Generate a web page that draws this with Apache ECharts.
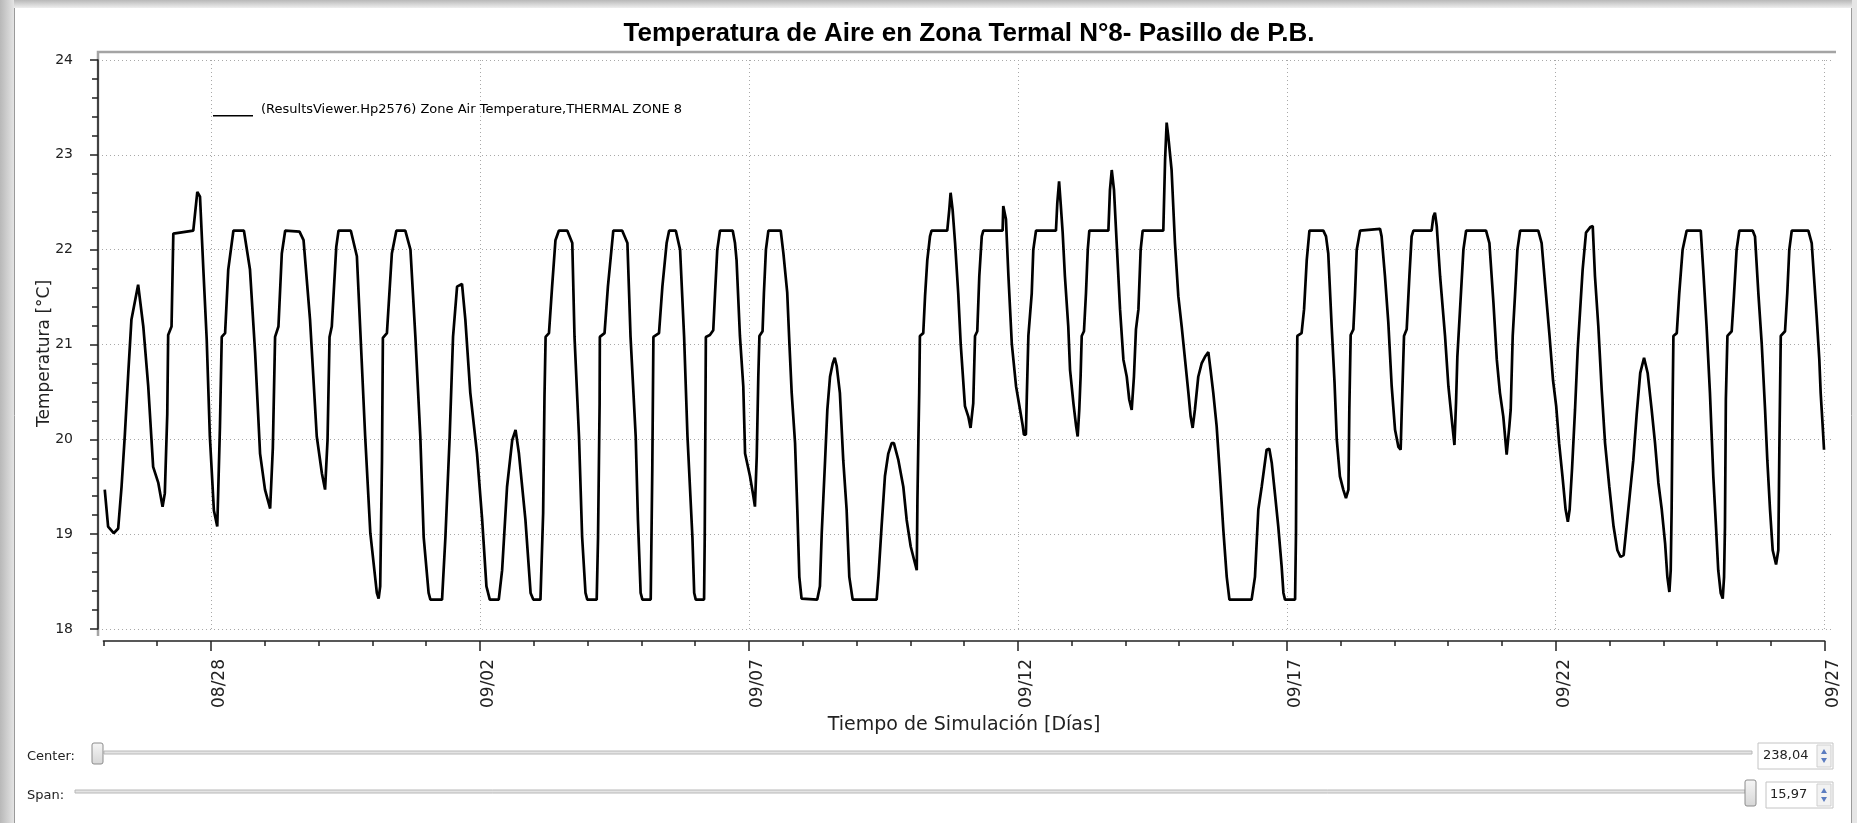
<!DOCTYPE html>
<html>

<head>
  <meta charset="utf-8">
  <title>Temperatura de Aire - Zona Termal 8</title>
  <style>
    html, body { margin: 0; padding: 0; background: #fff; }
    #chart { width: 1857px; height: 823px; }
  </style>
</head>

<body>
  <div id="chart"></div>
  <script src="https://cdn.jsdelivr.net/npm/echarts@6/dist/echarts.min.js"></script>
  <script type="text/javascript">
    // horas desde 08/26 00:00 y temperatura
    var hours = [
      0.6, 2.1, 4.6, 6.6, 8.1, 9.6, 11.1, 12.5, 15.5, 17.8, 20.0, 22.2, 24.5, 26.4, 27.4, 28.5, 28.9, 30.4, 31.2,
      40.1, 41.9, 43.1, 44.6, 46.1, 47.5, 49.3, 50.8, 52.0, 52.8, 54.3, 55.7, 58.0, 62.7, 65.4, 67.7, 69.9,
      72.1, 74.4, 75.6, 76.6, 78.1, 79.6, 81.1, 87.5, 89.3, 92.2, 95.2, 97.5, 98.9, 100.0, 100.9, 101.9, 103.9,
      104.9, 110.4, 113.1, 116.8, 119.1, 122.0, 122.8, 123.5, 124.3, 124.7, 126.5, 128.7, 130.7, 134.7, 137.0,
      139.2, 141.4, 142.9, 145.1, 145.9, 151.1, 152.6, 154.5, 156.0, 157.8, 160.0, 161.5, 163.7, 166.7, 169.0,
      170.9, 172.4, 176.4, 177.9, 180.1, 182.4, 183.9, 185.4, 188.3, 190.6, 191.8, 195.0, 196.2, 196.8, 197.3,
      198.8, 200.2, 201.7, 203.2, 207.0, 209.2, 210.2, 212.2, 213.6, 215.1, 215.9, 220.1, 220.7, 221.4, 221.5,
      223.6, 225.1, 227.5, 231.5, 233.8, 235.2, 237.5, 238.5, 239.7, 240.5, 244.2, 244.9, 245.4, 247.9, 249.4,
      251.3, 252.4, 255.4, 257.3, 259.1, 260.6, 262.8, 263.6, 264.3, 268.0, 268.3, 268.8, 270.6, 272.1, 272.9,
      273.9, 275.1, 280.8, 281.8, 282.5, 284.0, 285.5, 286.3, 288.5, 290.0, 290.7, 291.5, 292.2, 292.7, 294.1,
      294.7, 295.6, 296.7, 302.2, 303.4, 305.1, 306.0, 307.1, 308.6, 309.6, 310.5, 311.5, 312.3, 318.5, 319.7,
      320.5, 322.0, 323.0, 324.2, 325.4, 326.3, 327.2, 328.6, 330.1, 331.6, 332.8, 334.3, 345.0, 345.8, 347.2,
      348.7, 350.2, 351.7, 352.7, 354.7, 356.9, 358.4, 360.2, 361.7, 362.9, 363.2, 363.6, 364.0, 364.3, 365.8,
      366.6, 367.6, 368.8, 369.5, 376.5, 377.4, 378.0, 378.9, 380.0, 381.4, 382.5, 384.4, 385.9, 386.9, 388.1,
      388.9, 389.9, 390.8, 391.9, 392.6, 401.2, 401.5, 402.7, 403.8, 405.3, 407.2, 409.0, 410.2, 410.7, 411.6,
      412.0, 412.7, 414.2, 414.9, 416.1, 425.0, 425.6, 426.4, 427.1, 428.0, 429.0, 430.5, 431.3, 432.8, 434.0,
      434.7, 435.4, 436.0, 436.5, 437.5, 438.4, 439.2, 439.9, 448.4, 449.1, 449.9, 450.9, 452.1, 453.6, 455.1,
      456.6, 457.7, 458.8, 459.8, 460.7, 461.8, 462.8, 463.7, 472.9, 473.7, 474.4, 475.1, 476.6, 478.1, 479.6,
      481.1, 482.6, 484.1, 485.1, 486.0, 487.0, 488.5, 490.0, 491.5, 493.0, 494.0, 495.2, 496.7, 498.2, 499.7,
      501.2, 502.4, 512.3, 513.8, 515.3, 516.8, 519.0, 520.2, 521.3, 522.7, 524.2, 525.7, 526.5, 527.2, 531.7,
      532.1, 532.4, 532.7, 534.6, 535.7, 536.9, 538.1, 544.3, 545.5, 546.5, 548.0, 549.3, 550.3, 551.7, 553.2,
      554.4, 555.5, 555.9, 556.5, 557.7, 558.4, 559.2, 560.7, 569.6, 570.3, 571.8, 573.3, 574.8, 576.3, 577.8,
      578.8, 579.3, 580.3, 581.5, 582.7, 583.7, 584.5, 592.6, 593.4, 594.1, 594.9, 596.4, 598.6, 600.1, 601.6,
      602.8, 603.5, 604.1, 605.3, 606.8, 608.0, 616.9, 618.4, 620.2, 621.7, 623.1, 624.6, 626.1, 627.3, 627.9,
      628.8, 629.8, 630.9, 632.1, 640.2, 641.7, 643.2, 645.2, 646.8, 648.2, 649.5, 651.0, 652.4, 653.4, 654.2,
      655.3, 656.6, 657.8, 658.9, 660.0, 661.5, 663.5, 664.5, 665.5, 667.0, 668.5, 670.0, 671.9, 673.8, 675.5,
      676.9, 678.3, 679.6, 681.1, 682.6, 684.1, 685.7, 687.4, 689.0, 690.8, 692.3, 693.8, 695.3, 696.8, 697.8,
      698.7, 699.3, 699.7, 700.2, 700.5, 702.0, 703.1, 704.6, 706.4, 712.7, 713.8, 715.3, 716.8, 718.3, 719.5,
      720.5, 721.6, 722.5, 723.1, 723.5, 723.9, 724.6, 726.5, 727.5, 728.7, 729.9, 735.9, 736.9, 738.4, 739.9,
      741.4, 742.4, 743.6, 744.8, 746.3, 747.3, 747.8, 748.4, 750.3, 751.3, 752.2, 753.3, 760.7, 762.2, 763.2,
      764.4, 765.6, 766.2, 767.1, 767.7
    ];
    var temps = [
      19.47, 19.08, 19.01, 19.06, 19.50, 20.06, 20.70, 21.26, 21.63, 21.19, 20.56, 19.71, 19.54, 19.29, 19.43, 20.27, 21.10, 21.19, 22.17,
      22.20, 22.61, 22.56, 21.79, 21.05, 20.03, 19.25, 19.08, 20.13, 21.08, 21.12, 21.79, 22.20, 22.20, 21.79, 20.91, 19.85,
      19.47, 19.27, 19.91, 21.08, 21.19, 21.96, 22.20, 22.19, 22.10, 21.26, 20.03, 19.64, 19.47, 19.99, 21.08, 21.19, 22.03,
      22.20, 22.20, 21.93, 20.03, 19.01, 18.38, 18.32, 18.45, 19.78, 21.07, 21.12, 21.96, 22.20, 22.20, 22.00,
      21.08, 20.03, 18.97, 18.38, 18.31, 18.31, 18.97, 20.03, 21.08, 21.61, 21.64, 21.26, 20.49, 19.85, 19.15,
      18.45, 18.31, 18.31, 18.62, 19.50, 19.99, 20.10, 19.85, 19.15, 18.38, 18.31, 18.31, 19.22, 20.45, 21.08,
      21.12, 21.61, 22.10, 22.20, 22.20, 22.07, 21.08, 20.03, 18.97, 18.38, 18.31, 18.31, 18.97, 20.38, 21.08,
      21.12, 21.61, 22.20, 22.20, 22.07, 21.08, 20.03, 19.15, 18.38, 18.31, 18.31, 19.68, 21.08, 21.12, 21.61,
      22.07, 22.20, 22.20, 22.00, 21.08, 20.03, 18.97, 18.38, 18.31, 18.31, 18.97, 21.08, 21.10, 21.15, 21.54,
      22.00, 22.20, 22.20, 22.07, 21.89, 21.09, 20.56, 19.85, 19.61, 19.40, 19.29, 19.82, 20.66, 21.09, 21.14,
      21.54, 22.00, 22.20, 22.20, 21.96, 21.55, 21.05, 20.49, 19.96, 19.26, 18.55, 18.32, 18.31, 18.31, 18.45,
      19.01, 19.78, 20.31, 20.66, 20.80, 20.86, 20.77, 20.49, 19.78, 19.26, 18.55, 18.31, 18.31, 18.55, 19.08,
      19.61, 19.85, 19.96, 19.96, 19.78, 19.50, 19.15, 18.87, 18.73, 18.62, 19.36, 19.96, 20.50, 21.09, 21.12,
      21.51, 21.89, 22.14, 22.20, 22.20, 22.42, 22.60, 22.42, 22.07, 21.54, 21.01, 20.35, 20.24, 20.12, 20.38,
      21.09, 21.14, 21.72, 22.14, 22.20, 22.20, 22.46, 22.32, 21.72, 21.01, 20.56, 20.31, 20.14, 20.05, 20.05,
      20.45, 21.09, 21.54, 22.00, 22.20, 22.20, 22.49, 22.72, 22.49, 22.18, 21.72, 21.19, 20.73, 20.38, 20.14,
      20.03, 20.31, 20.66, 21.09, 21.14, 21.54, 22.00, 22.20, 22.20, 22.63, 22.84, 22.63, 22.07, 21.37, 20.84,
      20.66, 20.42, 20.31, 20.66, 21.16, 21.37, 22.00, 22.20, 22.20, 22.95, 23.34, 23.20, 22.84, 22.07, 21.51,
      21.19, 20.84, 20.49, 20.24, 20.12, 20.31, 20.66, 20.80, 20.87, 20.92, 20.73, 20.49, 20.14, 19.61, 19.04,
      18.55, 18.31, 18.31, 18.55, 19.26, 19.50, 19.89, 19.90, 19.75, 19.43, 19.08, 18.66, 18.38, 18.31, 18.31,
      19.01, 20.38, 21.09, 21.12, 21.37, 21.89, 22.20, 22.20, 22.14, 21.96, 21.20, 20.60, 20.00, 19.61, 19.47,
      19.38, 19.47, 20.31, 21.10, 21.16, 21.51, 22.00, 22.20, 22.22, 22.14, 21.72, 21.23, 20.56, 20.10, 19.92,
      19.89, 20.31, 21.09, 21.16, 21.72, 22.14, 22.20, 22.20, 22.35, 22.39, 22.25, 21.72, 21.09, 20.56, 20.21,
      19.94, 20.38, 20.87, 21.37, 22.00, 22.20, 22.20, 22.07, 21.44, 20.84, 20.49, 20.24, 19.84, 20.14, 20.31,
      21.09, 21.51, 22.00, 22.20, 22.20, 22.07, 21.65, 21.10, 20.62, 20.35, 19.96, 19.61, 19.26, 19.13, 19.26,
      19.70, 20.31, 20.95, 21.37, 21.79, 22.18, 22.24, 22.25, 21.72, 21.19, 20.52, 19.96, 19.50, 19.08, 18.83,
      18.76, 18.78, 19.08, 19.43, 19.78, 20.26, 20.70, 20.86, 20.70, 20.31, 19.96, 19.54, 19.26, 18.90, 18.55,
      18.39, 18.62, 19.26, 20.49, 21.09, 21.12, 21.54, 22.00, 22.20, 22.20, 21.79, 21.19, 20.49, 19.61, 19.08,
      18.62, 18.38, 18.32, 18.55, 19.08, 20.42, 21.09, 21.14, 21.51, 22.00, 22.20, 22.20, 22.14, 21.54, 21.01,
      20.31, 19.78, 19.26, 18.83, 18.68, 18.83, 19.96, 21.09, 21.14, 21.54, 22.00, 22.20, 22.20, 22.07, 21.72,
      21.30, 20.84, 20.49, 20.14, 19.89
    ];
    var dayLabels = [
      '08/26', '08/27', '08/28', '08/29', '08/30', '08/31',
      '09/01', '09/02', '09/03', '09/04', '09/05', '09/06', '09/07', '09/08', '09/09', '09/10',
      '09/11', '09/12', '09/13', '09/14', '09/15', '09/16', '09/17', '09/18', '09/19', '09/20',
      '09/21', '09/22', '09/23', '09/24', '09/25', '09/26', '09/27'
    ];
    var seriesName = '(ResultsViewer.Hp2576) Zone Air Temperature,THERMAL ZONE 8';

    var labelFont = 'DejaVu Sans';
    // etiqueta cada 5 dias, empezando en 08/28
    function isMajor(idx) {
      return (idx - 2) % 5 === 0;
    }

    var chart = echarts.init(document.getElementById('chart'));

    var option = {
      animation: false,
      backgroundColor: '#ffffff',
      title: {
        text: 'Temperatura de Aire en Zona Termal N°8- Pasillo de P.B.',
        left: 969,
        top: 21,
        padding: 0,
        textAlign: 'center',
        textStyle: {
          fontFamily: 'Liberation Sans',
          fontWeight: 'bold',
          fontSize: 26,
          color: '#000'
        }
      },
      legend: {
        left: 213,
        top: 102,
        padding: 0,
        // linea apoyada en la base del texto
        icon: 'path://M0,0H0.5V0.01H0ZM0,13H40V14.5H0Z',
        itemWidth: 40,
        itemHeight: 14.5,
        itemGap: 0,
        data: [seriesName],
        textStyle: {
          fontFamily: labelFont,
          fontSize: 13,
          color: '#000',
          padding: [0, 0, 0, 3]
        }
      },
      grid: [
        { left: 98, right: 24, top: 60, bottom: 194 },
        { left: 103.4, right: 32.3, top: 60, bottom: 194 }
      ],
      xAxis: [
        { gridIndex: 0, type: 'value', min: 0, max: 1, show: false },
        {
          gridIndex: 1,
          type: 'category',
          position: 'bottom',
          data: dayLabels,
          boundaryGap: false,
          offset: 12,
          name: 'Tiempo de Simulación [Días]',
          nameLocation: 'middle',
          nameGap: 73,
          nameTextStyle: { fontFamily: labelFont, fontSize: 19, color: '#222' },
          axisLine: { lineStyle: { color: '#222', width: 1.5 } },
          axisTick: { interval: 0, length: 5, lineStyle: { color: '#222', width: 1.5 } },
          axisLabel: {
            interval: isMajor,
            rotate: 90,
            margin: 18,
            fontFamily: labelFont,
            fontSize: 17,
            color: '#222',
            verticalAlign: 'top'
          },
          splitLine: {
            show: true,
            interval: isMajor,
            lineStyle: { color: '#a8a8a8', type: [1, 3], width: 1 }
          }
        },
        {
          gridIndex: 1,
          type: 'category',
          position: 'bottom',
          data: dayLabels,
          boundaryGap: false,
          offset: 12,
          axisLine: { show: false },
          axisTick: { interval: isMajor, length: 10, lineStyle: { color: '#222', width: 1.5 } },
          axisLabel: { show: false },
          splitLine: { show: false }
        },
        { gridIndex: 1, type: 'value', min: 0, max: 768, show: false }
      ],
      yAxis: [
        {
          gridIndex: 0,
          type: 'value',
          min: 18,
          max: 24,
          interval: 1,
          offset: 6,
          name: 'Temperatura [°C]',
          nameLocation: 'middle',
          nameGap: 39,
          nameMoveOverlap: false,
          nameTextStyle: { fontFamily: labelFont, fontSize: 17, color: '#222', padding: [0, 18, 0, 0] },
          axisLine: { show: true, lineStyle: { color: '#222', width: 1.5 } },
          axisTick: { show: true, length: 8, lineStyle: { color: '#222', width: 1.5 } },
          minorTick: { show: true, splitNumber: 5, length: 6, lineStyle: { color: '#222', width: 1.5 } },
          axisLabel: { margin: 19, fontFamily: labelFont, fontSize: 14, color: '#222' },
          splitLine: { show: true, lineStyle: { color: '#a8a8a8', type: [1, 3], width: 1 } }
        },
        { gridIndex: 1, type: 'value', min: 18, max: 24, show: false }
      ],
      series: [{
        name: seriesName,
        type: 'line',
        xAxisIndex: 3,
        yAxisIndex: 1,
        showSymbol: false,
        symbol: 'none',
        data: hours.map(function (h, i) { return [h, temps[i]]; }),
        lineStyle: { color: '#000', width: 2.7 },
        itemStyle: { color: '#000' }
      }],
      graphic: [
        // borde de ventana
        {
          type: 'rect', shape: { x: 0, y: 0, width: 1857, height: 8 }, silent: true,
          style: { fill: new echarts.graphic.LinearGradient(0, 0, 0, 1, [{ offset: 0, color: '#b8b8b8' }, { offset: 1, color: '#eeeeee' }]) }
        },
        {
          type: 'rect', shape: { x: 0, y: 0, width: 14, height: 823 }, silent: true,
          style: { fill: new echarts.graphic.LinearGradient(0, 0, 1, 0, [{ offset: 0, color: '#b8b8b8' }, { offset: 1, color: '#e4e4e4' }]) }
        },
        { type: 'line', shape: { x1: 14.5, y1: 8, x2: 14.5, y2: 823 }, silent: true, style: { stroke: '#9a9a9a', lineWidth: 1 } },
        { type: 'line', shape: { x1: 1851.5, y1: 8, x2: 1851.5, y2: 823 }, silent: true, style: { stroke: '#9a9a9a', lineWidth: 1 } },
        { type: 'rect', shape: { x: 1852, y: 0, width: 5, height: 823 }, silent: true, style: { fill: '#e6e6e6' } },
        // marco del lienzo
        {
          type: 'polyline', silent: true,
          shape: { points: [[98, 636], [98, 52], [1836, 52]] },
          style: { stroke: '#a4a4a4', lineWidth: 2.5, fill: null }
        },
        // controles Center / Span
        { type: 'text', left: 27, top: 750, silent: true, style: { text: 'Center:', font: '13px DejaVu Sans', fill: '#222' } },
        { type: 'rect', shape: { x: 104, y: 751, width: 1648, height: 3 }, silent: true, style: { fill: '#e4e4e4', stroke: '#b8b8b8', lineWidth: 1 } },
        {
          type: 'rect', shape: { x: 92, y: 743, width: 11, height: 21, r: 2 }, silent: true,
          style: { fill: new echarts.graphic.LinearGradient(0, 0, 0, 1, [{ offset: 0, color: '#f6f6f6' }, { offset: 1, color: '#d6d6d6' }]), stroke: '#8c8c8c', lineWidth: 1 }
        },
        { type: 'rect', shape: { x: 1758, y: 743, width: 75, height: 26 }, silent: true, style: { fill: '#fff', stroke: '#c4c4c4', lineWidth: 1 } },
        { type: 'text', left: 1763, top: 749, silent: true, style: { text: '238,04', font: '13px DejaVu Sans', fill: '#222' } },
        { type: 'rect', shape: { x: 1817, y: 745, width: 14, height: 22 }, silent: true, style: { fill: '#f2f2f2', stroke: '#cfcfcf', lineWidth: 1 } },
        { type: 'polygon', shape: { points: [[1821, 754], [1827, 754], [1824, 749]] }, silent: true, style: { fill: '#5b7cc0' } },
        { type: 'polygon', shape: { points: [[1821, 758], [1827, 758], [1824, 763]] }, silent: true, style: { fill: '#5b7cc0' } },
        { type: 'text', left: 27, top: 789, silent: true, style: { text: 'Span:', font: '13px DejaVu Sans', fill: '#222' } },
        { type: 'rect', shape: { x: 75, y: 790, width: 1670, height: 3 }, silent: true, style: { fill: '#e4e4e4', stroke: '#b8b8b8', lineWidth: 1 } },
        {
          type: 'rect', shape: { x: 1745, y: 780, width: 11, height: 26, r: 2 }, silent: true,
          style: { fill: new echarts.graphic.LinearGradient(0, 0, 0, 1, [{ offset: 0, color: '#f6f6f6' }, { offset: 1, color: '#d6d6d6' }]), stroke: '#8c8c8c', lineWidth: 1 }
        },
        { type: 'rect', shape: { x: 1766, y: 782, width: 67, height: 26 }, silent: true, style: { fill: '#fff', stroke: '#c4c4c4', lineWidth: 1 } },
        { type: 'text', left: 1770, top: 788, silent: true, style: { text: '15,97', font: '13px DejaVu Sans', fill: '#222' } },
        { type: 'rect', shape: { x: 1817, y: 784, width: 14, height: 22 }, silent: true, style: { fill: '#f2f2f2', stroke: '#cfcfcf', lineWidth: 1 } },
        { type: 'polygon', shape: { points: [[1821, 793], [1827, 793], [1824, 788]] }, silent: true, style: { fill: '#5b7cc0' } },
        { type: 'polygon', shape: { points: [[1821, 797], [1827, 797], [1824, 802]] }, silent: true, style: { fill: '#5b7cc0' } }
      ]
    };

    chart.setOption(option);
    window.addEventListener('resize', chart.resize);
  </script>
</body>

</html>
